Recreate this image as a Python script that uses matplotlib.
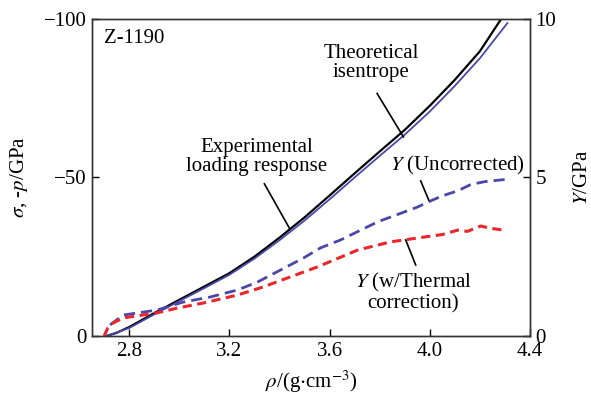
import numpy as np
import matplotlib
matplotlib.use('Agg')
import matplotlib.pyplot as plt

plt.rcParams['font.family'] = ['Liberation Serif', 'DejaVu Serif']
plt.rcParams['mathtext.fontset'] = 'stix'
plt.rcParams['font.size'] = 15

# stress curves (left axis, GPa)
rho_exp = [2.71, 2.75, 2.80, 2.90, 3.00, 3.10, 3.20, 3.30, 3.40, 3.50, 3.60,
           3.70, 3.80, 3.90, 4.00, 4.10, 4.20, 4.285]
sig_exp = [0.0, -1.0, -2.8, -7.2, -11.4, -15.6, -19.8, -25.0, -31.0, -37.4, -44.3,
           -51.3, -58.2, -65.0, -72.6, -80.8, -89.8, -100.0]
rho_th = [2.71, 2.80, 2.90, 3.00, 3.10, 3.20, 3.30, 3.40, 3.50, 3.60,
          3.70, 3.80, 3.90, 4.00, 4.10, 4.20, 4.31]
sig_th = [0.0, -2.5, -6.8, -11.0, -15.1, -19.3, -24.4, -30.2, -36.4, -43.1,
          -50.0, -56.8, -63.5, -70.8, -78.9, -87.6, -98.7]

# strength curves (right axis, GPa)
rho_yu = [2.724, 2.776, 2.912, 3.016, 3.124, 3.232, 3.312, 3.404, 3.496, 3.564,
          3.644, 3.792, 3.952, 4.00, 4.05, 4.112, 4.164, 4.22, 4.316]
y_unc = [0.35, 0.66, 0.82, 1.07, 1.23, 1.45, 1.70, 2.08, 2.46, 2.78,
         3.03, 3.60, 4.07, 4.25, 4.42, 4.58, 4.78, 4.87, 4.95]
rho_yt = [2.70, 2.715, 2.736, 2.776, 2.912, 2.992, 3.096, 3.232, 3.336, 3.432,
          3.552, 3.712, 3.844, 3.976, 4.05, 4.112, 4.15, 4.204, 4.24, 4.296]
y_therm = [0.0, 0.25, 0.41, 0.57, 0.73, 0.88, 1.04, 1.29, 1.55, 1.83,
           2.18, 2.71, 2.97, 3.12, 3.20, 3.34, 3.30, 3.47, 3.40, 3.34]

xticks = [2.8, 3.2, 3.6, 4.0, 4.4]

fig = plt.figure(figsize=(5.91, 3.94), dpi=100)
ax = fig.add_axes([0.1557, 0.1472, 0.741, 0.8046])
ax2 = ax.twinx()

ax.plot(rho_exp, sig_exp, color='black', lw=1.6)
ax.plot(rho_th, sig_th, color='#4b47a8', lw=1.3)
ax2.plot(rho_yu, y_unc, color='#4b47a8', lw=2.0, dashes=(4, 2.2))
ax2.plot(rho_yt, y_therm, color='#e8262b', lw=2.2, dashes=(3, 1.8))

ax.set_xlim(2.652, 4.4)
ax.set_ylim(0, -100)
ax2.set_ylim(0, 10)
ax.set_xticks(xticks)
ax.set_xticklabels(['2.8', '3.2', '3.6', '4.0', '4.4'])
ax.set_yticks([0, -50, -100])
ax2.set_yticks([0, 5, 10])

ax.tick_params(direction='in', length=5, width=1, top=False, right=False, pad=4)
ax2.tick_params(direction='in', length=5, width=1, pad=4)
for a in (ax, ax2):
    for s in a.spines.values():
        s.set_linewidth(1.0)
        s.set_color('#333333')

ax.set_xlabel(r'$\rho$/(g$\cdot$cm$^{-3}$)', labelpad=6)
ax.set_ylabel(r'$\sigma$, -$p$/GPa', labelpad=10)
ax2.set_ylabel(r'$Y$/GPa', labelpad=12)

ax.text(2.70, -94, 'Z-1190', ha='left', va='center')

# annotations with leader lines
ax.text(3.765, -86, 'Theoretical\nisentrope', ha='center', va='center', linespacing=1.0)
ax.plot([3.79, 3.895], [-76.5, -62.8], color='black', lw=1.2)

ax.text(3.31, -56.5, 'Experimental\nloading response', ha='center', va='center', linespacing=1.0)
ax.plot([3.34, 3.44], [-48, -34], color='black', lw=1.2)

ax2.text(4.11, 5.38, r'$Y$ (Uncorrected)', ha='center', va='center')
ax2.plot([3.964, 3.996], [4.89, 4.29], color='black', lw=1.2)

ax2.text(3.935, 1.37, '$Y$ (w/Thermal\ncorrection)', ha='center', va='center', linespacing=1.0)
ax2.plot([3.904, 3.944], [3.03, 2.24], color='black', lw=1.2)

fig.savefig('out.png', dpi=100)
